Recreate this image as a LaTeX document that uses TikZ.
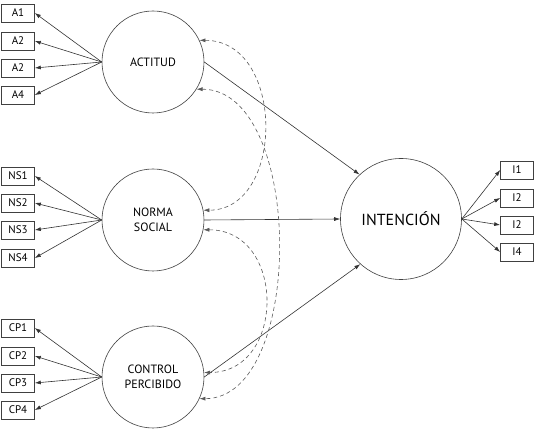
\documentclass[tikz,border=0pt]{standalone}
\usepackage{fontspec}
\setmainfont{PT Sans}
\usetikzlibrary{arrows.meta}
\begin{document}
\begin{tikzpicture}
           [x=1pt,y=-1pt,line width=0.6pt,
            item/.style={draw=black!75,minimum width=33pt,minimum height=18pt,inner sep=0pt,
              font=\fontsize{11}{13}\selectfont},
            factor/.style={draw=black!75,circle,minimum size=102pt,inner sep=0pt,align=center,
              font=\fontsize{12}{15}\selectfont},
            load/.style={-{Latex[length=6pt,width=4pt]},black!80},
            corr/.style={{Latex[length=6pt,width=4pt]}-{Latex[length=6pt,width=4pt]},
              black!65,dash pattern=on 4pt off 3pt}]
           \useasboundingbox (0,0) rectangle (542,435);

           \node[factor] (ACT) at (153,62) {ACTITUD};
           \node[factor] (NOR) at (153,220) {NORMA\\SOCIAL};
           \node[factor] (CON) at (153,377) {CONTROL\\PERCIBIDO};
           \node[factor,minimum size=121pt,font=\fontsize{16}{18}\selectfont] (INT) at (401,219) {INTENCIÓN};

           % indicadores
           \foreach \lab/\y [count=\i] in {A1/13,A2/41,A2/68,A4/95}
             {\node[item] (a\i) at (18,\y) {\lab};
              \draw[load] (ACT.west) -- (a\i.east);}
           \foreach \lab/\y [count=\i] in {NS1/176,NS2/203,NS3/230,NS4/258}
             {\node[item] (n\i) at (18,\y) {\lab};
              \draw[load] (NOR.west) -- (n\i.east);}
           \foreach \lab/\y [count=\i] in {CP1/328,CP2/356,CP3/383,CP4/410}
             {\node[item] (c\i) at (18,\y) {\lab};
              \draw[load] (CON.west) -- (c\i.east);}
           \foreach \lab/\y [count=\i] in {I1/170,I2/198,I2/225,I4/252}
             {\node[item] (i\i) at (517,\y) {\lab};
              \draw[load] (INT.east) -- (i\i.west);}

           \draw[load] (ACT.east) -- (INT.133);
           \draw[load] (NOR.east) -- (INT.west);
           \draw[load] (CON.east) -- (INT.-132);

           % correlaciones
           \draw[corr] (ACT.25) .. controls +(86,0) and +(82,0) .. (NOR.11);
           \draw[corr] (ACT.-32) .. controls +(108,0) and +(106,0) .. (CON.-25);
           \draw[corr] (NOR.-11) .. controls +(83,0) and +(82,0) .. (CON.5);
         \end{tikzpicture}
\end{document}
